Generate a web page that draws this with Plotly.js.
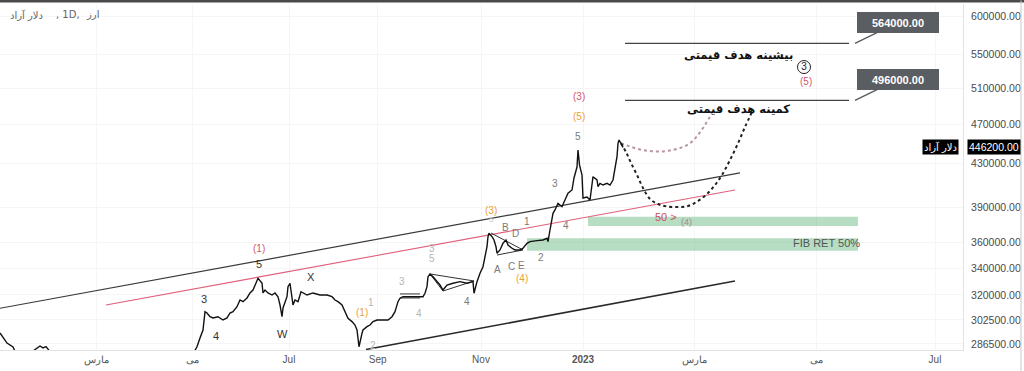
<!DOCTYPE html>
<html>
<head>
<meta charset="utf-8">
<script src="https://cdn.plot.ly/plotly-3.0.1.min.js"></script>
<style>html,body{margin:0;padding:0;background:#fff;}#chart{width:1024px;height:371px;}</style>
</head>
<body>
<div id="chart"></div>
<script>
// ---- time axis (bar index) tick labels ----
const tickIdx  = [48.4, 96.4, 144.5, 188.8, 240.5, 291.5, 347, 408, 467.5];
const tickText = ['مارس', 'مى', 'Jul', 'Sep', 'Nov', '<b>2023</b>', 'مارس', 'مى', 'Jul'];
const priceTicks = [600000, 550000, 510000, 470000, 430000, 390000, 360000, 340000, 320000, 302500, 286500];

// ---- header parts (left to right) ----
const headerParts = ['دلار آزاد', ', 1D, ', 'ارز'];

// ---- price series (bar index, price) ----
const barIdx = [0,1.5,2.5,3.5,6.5,8,12,16,20,21.5,23,26,31,38,45,52,60,68,75,82,90,96,
  98.5,100,101.5,102.5,103.5,105,106.5,109,111.5,113.5,115,116.5,118.5,120,121.5,123.5,125,126.5,128.5,129,
  131,131.5,132.5,134,136,137.5,139,140,141,141.5,143.5,144,145,146,146.5,147.5,149,150.5,151.5,153.5,156.5,
  160,163.5,166,167.5,169,171,172.5,174,176,177.5,178.5,179,179.5,181,181.5,183.5,185,186.5,188.5,191.5,194,
  196,197.5,199,200,201.5,205,208.5,211.5,212.5,213.5,214,215,216.5,218.5,220,221.5,223.5,226.5,230,233.5,
  236.5,237,238.5,240,241.5,242.5,243.5,244,244.5,246,247,248,248.5,250,251.5,253,254,256,257.5,260,261.5,
  263.5,265,268.5,271.5,273.5,274,275,276,276.5,277.5,279,281,282.5,284,286,287,288.5,289,289.75,291,291.5,
  293.5,295,296.5,298.5,299,300,301.5,303.5,305,306.5,307.5,308.5,309,309.5,311,311.5];
const barPrice = [293650,291000,289100,287100,284550,280500,279000,281500,285200,284000,284800,280000,276000,272000,268500,266000,263000,265000,268000,271000,275000,279000,
  284700,290400,295650,308100,307200,304650,303800,304650,302400,303800,307200,308100,311600,316350,315150,317800,321400,323550,329700,332200,
  328700,321400,323550,321400,319900,321400,318700,312800,304650,310700,318700,326000,328500,317800,312800,316350,315150,322300,321400,319900,321400,
  319900,319900,318700,316350,315150,312800,308100,303600,301300,299000,295650,289100,284700,293450,295650,297900,299000,301300,302400,302400,302400,
  304650,308100,315150,317600,318700,318700,318700,318700,321200,326000,333400,335450,333400,329700,327200,323550,327200,328500,329700,328500,
  329700,321200,329700,336000,341000,348800,356700,364900,367700,364900,362150,356700,351500,354100,359500,362150,358100,355450,354100,354100,355450,
  359500,360800,361600,362150,363550,360800,370400,378850,384600,387500,393400,390400,396300,402350,405350,416500,426900,443600,428900,419300,398100,
  399000,396300,417700,414600,408400,411500,409950,411500,409950,414600,424000,436950,450350,453700,448600,446200];
const lastPrice = 446200;

// ---- channel lines [startIdx, endIdx], [startPrice, endPrice] ----
const upperChannelIdx = [0, 370],     upperChannelPrice = [310500, 421300];
const midChannelIdx   = [53, 367.5],  midChannelPrice   = [312800, 405350];
const lowerChannelIdx = [183, 367.5], lowerChannelPrice = [282950, 330200];

// ---- pattern drawings ----
const tri1Idx = [215, 237, 221.5], tri1Price = [335450, 330200, 322800];
const tri2Idx = [245.5, 261.5, 248.5], tri2Price = [367900, 354100, 350100];
const flagIdx = [200, 210], flagTop = 320700, flagBottom = 317800;

// ---- projected paths (dotted) ----
const projAIdx = [310.5, 315, 320, 325, 330, 335, 340, 345, 349, 352.5, 356];
const projAPrice = [450350, 447100, 444100, 442600, 442100, 443100, 445600, 450400, 458900, 469300, 482200];
const projBIdx = [310.5, 313, 315.5, 318.5, 321.5, 325, 329, 333.5, 339, 344, 349, 353.5, 357.5, 361, 365, 369, 372.5, 376];
const projBPrice = [450350, 441600, 430800, 419300, 407200, 397200, 392750, 390550, 390100, 391000, 395400, 401700, 409950, 419300, 433700, 450400, 467200, 483300];

// ---- targets ----
const targetPrices = [564000, 496000];
const targetIdx = [312.5, 424.5];
const targetNames = ['بیشینه هدف قیمتی', 'کمینه هدف قیمتی'];
const targetNamePrice = [549500, 486600];
const targetNameIdx = 369;

// ---- Fibonacci zones ----
const zoneStart = [294, 263.5], zoneEnd = [429, 429];
const zoneTop = [381700, 363550], zoneBottom = [373800, 353500];

// ---- wave labels ----
const waveText  = ['(1)','5','3','4','W','X','(1)','1','2','3','4','4','3','5','(3)','5','B','1','D','A','C','E','(4)','2','4','3','5','(5)','(3)','(5)','50 >','(4)','FIB RET 50%'];
const waveIdx   = [129.5,129.5,102,108,141,155.5,181,185.5,186.5,201,209.5,233.5,216,216,245.5,245.5,252.5,263.5,257.5,248.5,255.5,260.5,261,270.5,283,277.5,289,289.5,289.5,403,333,343,413];
const wavePrice = [354900,343100,317100,291700,293000,333200,307900,314500,285700,329450,307200,315600,354900,347000,386900,379600,372900,377150,367100,338500,340800,342300,331700,347800,373800,410900,457800,477900,499900,518200,381400,377150,359700];
const waveKind  = ['red','dark','dark','dark','dark','dark','orange','faint','faint','faint','faint','gray','faint','faint','orange','faintsmall','gray','gray','gray','gray','gray','gray','orange','gray','gray','gray','gray','orange','red','red','red50','muted','fib'];
const circledIdx = 402, circledPrice = 534800, circledText = '3';

const kindColor = {red:'#d4566e', orange:'#e9a234', dark:'#333333', gray:'#7a7a7a', faint:'#b5b5b5', faintsmall:'#c4c4c4', red50:'#c9505a', muted:'#a08c8c', fib:'#555555'};
const kindSize  = {red:10, orange:10, dark:11, gray:10, faint:10, faintsmall:8, red50:11, muted:9, fib:11};

const traces = [];
for (let i = 0; i < zoneStart.length; i++) {
  traces.push({x:[zoneStart[i], zoneEnd[i], zoneEnd[i], zoneStart[i], zoneStart[i]],
    y:[zoneTop[i], zoneTop[i], zoneBottom[i], zoneBottom[i], zoneTop[i]],
    mode:'lines', fill:'toself', fillcolor:'rgba(96,180,120,0.45)', line:{width:0}, hoverinfo:'skip'});
}
traces.push({x:upperChannelIdx, y:upperChannelPrice, mode:'lines', line:{color:'#3a3a3a', width:1.2}});
traces.push({x:midChannelIdx, y:midChannelPrice, mode:'lines', line:{color:'#e0607a', width:1.1}});
traces.push({x:lowerChannelIdx, y:lowerChannelPrice, mode:'lines', line:{color:'#2a2a2a', width:1.6}});
traces.push({x:[tri1Idx[0], tri1Idx[1], tri1Idx[2], tri1Idx[0]], y:[tri1Price[0], tri1Price[1], tri1Price[2], tri1Price[0]], mode:'lines', line:{color:'#333', width:1}});
traces.push({x:[tri2Idx[0], tri2Idx[1], tri2Idx[2]], y:[tri2Price[0], tri2Price[1], tri2Price[2]], mode:'lines', line:{color:'#333', width:1}});
traces.push({x:[flagIdx[0], flagIdx[1], null, flagIdx[0], flagIdx[1]], y:[flagTop, flagTop, null, flagBottom, flagBottom], mode:'lines', line:{color:'#333', width:1}});
traces.push({x:targetIdx, y:[targetPrices[0], targetPrices[0]], mode:'lines', line:{color:'#444', width:1.2}});
traces.push({x:targetIdx, y:[targetPrices[1], targetPrices[1]], mode:'lines', line:{color:'#444', width:1.2}});
traces.push({x:projAIdx, y:projAPrice, mode:'lines', line:{color:'#b995a3', width:2, dash:'dot', shape:'spline'}});
traces.push({x:projBIdx, y:projBPrice, mode:'lines', line:{color:'#222', width:2, dash:'dot', shape:'spline'}});
traces.push({x:barIdx, y:barPrice, mode:'lines', line:{color:'#111', width:1.4}});
traces.push({x:[circledIdx], y:[circledPrice], mode:'markers+text', text:[circledText], textposition:'middle center',
  textfont:{size:10, color:'#222', family:'Liberation Sans'}, marker:{symbol:'circle-open', size:13, color:'#222', line:{width:1}}});

const annotations = [];
for (let i = 0; i < waveText.length; i++) {
  annotations.push({x:waveIdx[i], y:Math.log10(wavePrice[i]), xref:'x', yref:'y', text:waveText[i], showarrow:false,
    font:{size:kindSize[waveKind[i]], color:kindColor[waveKind[i]], family:'Liberation Sans'}});
}
for (let i = 0; i < targetNames.length; i++) {
  annotations.push({x:targetNameIdx, y:Math.log10(targetNamePrice[i]), xref:'x', yref:'y', text:'<b>' + targetNames[i] + '</b>', showarrow:false,
    font:{size:11.5, color:'#111', family:'DejaVu Sans'}});
  annotations.push({x:427.5, y:Math.log10(targetPrices[i]), xref:'x', yref:'y', text:'<b>' + targetPrices[i].toFixed(2) + '</b>',
    showarrow:true, arrowhead:0, arrowwidth:1.5, arrowcolor:'#5a5d62', ax:43, ay:-21, bgcolor:'#5a5d62', bordercolor:'#5a5d62',
    width:76, height:15, borderpad:2, font:{size:11, color:'#fff', family:'Liberation Sans'}});
}
annotations.push({x:1, xref:'paper', y:Math.log10(lastPrice), yref:'y', xanchor:'left', xshift:4, text:lastPrice.toFixed(2), showarrow:false,
  bgcolor:'#000', font:{size:10.5, color:'#fff', family:'Liberation Sans'}, borderpad:1});
annotations.push({x:1, xref:'paper', y:Math.log10(lastPrice), yref:'y', xanchor:'right', xshift:-4, text:'دلار آزاد', showarrow:false,
  bgcolor:'#000', font:{size:10, color:'#fff', family:'DejaVu Sans'}, borderpad:1});
// header, drawn as separate parts so the order stays left to right
const headerShift = [8, 54, 84];
for (let i = 0; i < headerParts.length; i++) {
  annotations.push({x:0, xref:'paper', xanchor:'left', xshift:headerShift[i], y:(350-15)/346, yref:'paper', yanchor:'middle',
    text:headerParts[i], showarrow:false, font:{size:10, color:'#666', family:'DejaVu Sans'}});
}

const layout = {
  width:1024, height:371,
  margin:{l:0, r:61, t:4, b:21},
  paper_bgcolor:'#fff', plot_bgcolor:'#fff',
  showlegend:false,
  xaxis:{range:[0, 481.5], tickvals:tickIdx, ticktext:tickText, showgrid:true, gridcolor:'#f5f5f5', zeroline:false,
    showline:true, linecolor:'#e2e2e2', ticks:'', tickfont:{size:10, color:'#555', family:'Liberation Sans'}, fixedrange:true},
  yaxis:{type:'log', range:[5.451211, 5.789897], side:'right', tickvals:priceTicks, ticktext:priceTicks.map(v => v.toFixed(2)),
    showgrid:true, gridcolor:'#f5f5f5', zeroline:false, showline:true, linecolor:'#e2e2e2', ticks:'', ticklabelstandoff:5,
    tickfont:{size:10.5, color:'#4a4a4a', family:'Liberation Sans'}, fixedrange:true},
  shapes:[
    {type:'rect', xref:'paper', yref:'paper', x0:-0.01, x1:1.08, y0:1.0043, y1:1.02, fillcolor:'#4a4a4a', line:{width:0}, layer:'above'},
    {type:'line', xref:'paper', yref:'paper', x0:1.0602, x1:1.0602, y0:-0.07, y1:1.01, line:{color:'#c8c8c8', width:1}}
  ],
  annotations:annotations
};
Plotly.newPlot('chart', traces, layout, {displayModeBar:false, staticPlot:true});
</script>
</body>
</html>
